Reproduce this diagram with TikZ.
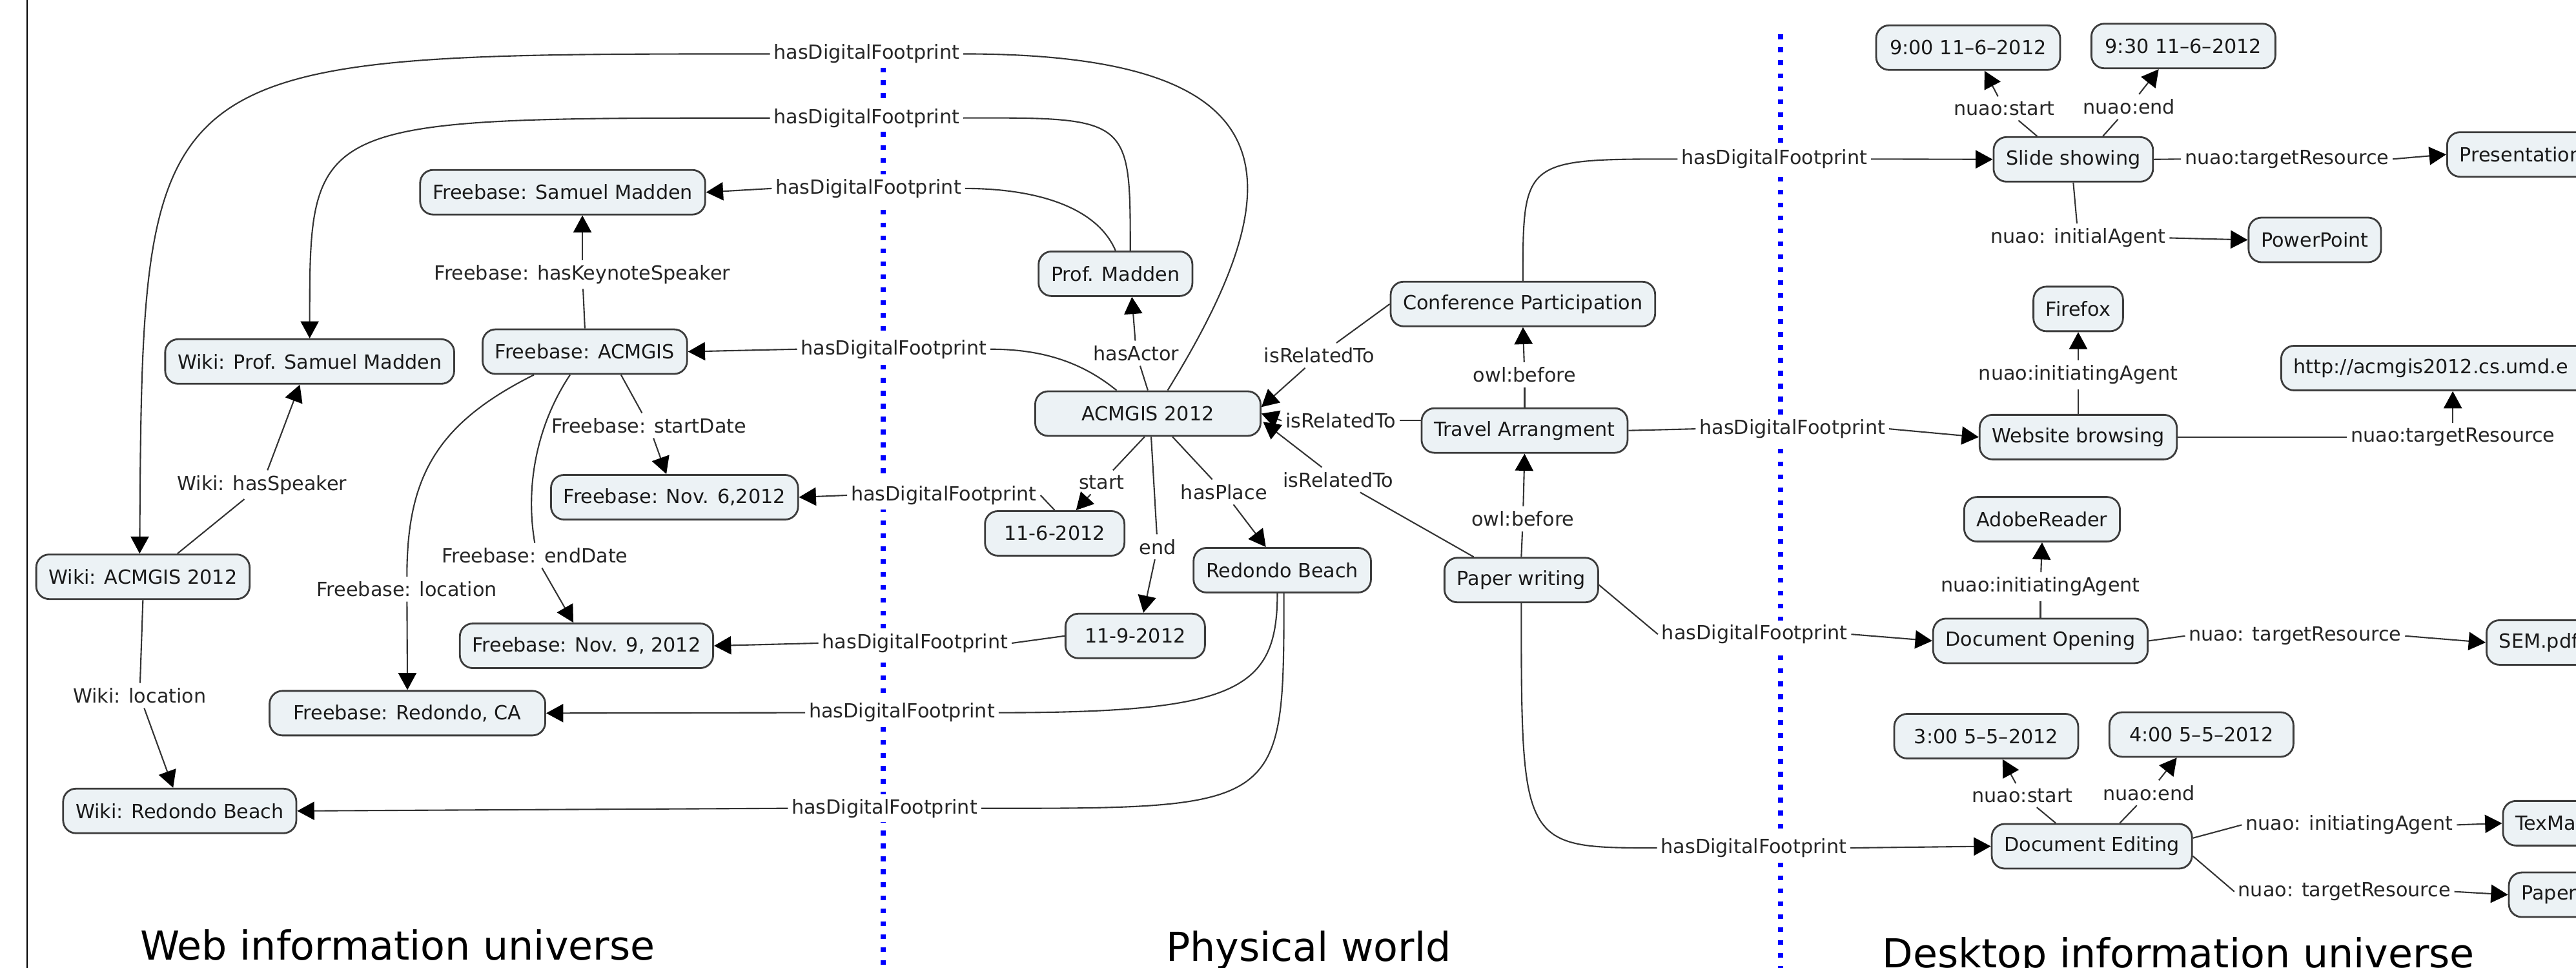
\documentclass[tikz,border=0pt]{standalone}
\usepackage{fontspec}
\setmainfont{DejaVu Sans}
\usetikzlibrary{calc}
\usetikzlibrary{arrows.meta}
\definecolor{conceptfill}{RGB}{236,242,245}
\definecolor{conceptline}{RGB}{60,60,60}
\tikzset{concept/.style={
    draw=conceptline,
    fill=conceptfill,
    line width=0.8pt,
    rounded corners=2mm,
    minimum height=6.9mm,
    inner xsep=5.5pt,
    text=black!90,
    font=\fontsize{8.6}{10}\selectfont
  },
  phrase/.style={
    fill=white,
    inner xsep=1.5pt,
    inner ysep=2pt,
    text=black!85,
    font=\fontsize{8.6}{10}\selectfont
  },
  datebox/.style={minimum width=21.6mm},
  timebox/.style={minimum width=28.5mm},
  offpage/.style={anchor=west, text width=50mm, align=left},
  link/.style={draw=black!80, line width=0.6pt},
  world/.style={anchor=base, font=\fontsize{17.6}{20}\selectfont},
  divider/.style={blue, line width=2.5pt, dash pattern=on 2.1pt off 3.6pt}
}

\begin{document}
\begin{tikzpicture}[x=0.25446mm,y=-0.25446mm,>={Triangle[length=7.5pt,width=8pt,color=black]}]
  \useasboundingbox (0,0) rectangle (1568,589);
  \clip (0,0) rectangle (1568,589);
  \draw[line width=0.8pt] (16.5,0) -- (16.5,589);
  \draw[divider] (537.6,41) -- (537.6,589);
  \draw[divider] (1083.8,21) -- (1083.8,589);

  \node[concept] (fbMadden) at (342.5,117) {Freebase: Samuel Madden};
  \node[concept] (wikiMadden) at (188.5,220) {Wiki: Prof. Samuel Madden};
  \node[concept] (fbAcmgis) at (356,214) {Freebase: ACMGIS};
  \node[concept] (fbNovSix) at (410.6,302.6) {Freebase: Nov. 6,2012};
  \node[concept] (wikiAcmgis) at (87,351) {Wiki: ACMGIS 2012};
  \node[concept] (fbNovNine) at (357,393) {Freebase: Nov. 9, 2012};
  \node[concept, minimum width=42.7mm] (fbRedondo) at (248,434) {Freebase: Redondo, CA};
  \node[concept] (wikiRedondo) at (109.4,493.5) {Wiki: Redondo Beach};

  \node[concept] (madden) at (679,166.6) {Prof. Madden};
  \node[concept, minimum width=34.9mm] (acmgis) at (698.7,251.7) {ACMGIS 2012};
  \node[concept, datebox] (dStart) at (642,324.6) {11-6-2012};
  \node[concept, datebox] (dEnd) at (691,387) {11-9-2012};
  \node[concept] (redondo) at (780.5,347) {Redondo Beach};
  \node[concept] (conf) at (927,185) {Conference Participation};
  \node[concept] (travel) at (928,262) {Travel Arrangment};
  \node[concept] (paper) at (926,353) {Paper writing};

  \node[concept] (slides) at (1262,97) {Slide showing};
  \node[concept, timebox] (tSlideStart) at (1198,29) {9:00 11–6–2012};
  \node[concept, timebox] (tSlideEnd) at (1329,28) {9:30 11–6–2012};
  \node[concept, offpage] (pres) at (1489,94) {Presentation};
  \node[concept] (ppt) at (1409,146) {PowerPoint};
  \node[concept] (firefox) at (1265,188) {Firefox};
  \node[concept, offpage] (url) at (1388,224) {http://acmgis2012.cs.umd.e};
  \node[concept] (browse) at (1265,266) {Website browsing};
  \node[concept] (adobe) at (1243,316) {AdobeReader};
  \node[concept] (docOpen) at (1242,390) {Document Opening};
  \node[concept, offpage] (sem) at (1513,391) {SEM.pdf};
  \node[concept, timebox] (tEditStart) at (1209,448) {3:00 5–5–2012};
  \node[concept, timebox] (tEditEnd) at (1340,447) {4:00 5–5–2012};
  \node[concept] (docEdit) at (1273.3,515) {Document Editing};
  \node[concept, offpage] (texMa) at (1523,501) {TexMa};
  \node[concept, offpage] (paperRes) at (1526.6,544.5) {Paper};

  \node[phrase] (fpWikiEvent) at (527.5,32.8) {hasDigitalFootprint};
  \node[phrase] (fpWikiSpeaker) at (527.5,71.8) {hasDigitalFootprint};
  \node[phrase] (fpFbSpeaker) at (528.6,114.7) {hasDigitalFootprint};
  \node[phrase] (fpFbEvent) at (544,212.5) {hasDigitalFootprint};
  \node[phrase] (fpFbStart) at (574.5,301.4) {hasDigitalFootprint};
  \node[phrase] (fpFbEnd) at (557,391.4) {hasDigitalFootprint};
  \node[phrase] (fpFbPlace) at (549,433.7) {hasDigitalFootprint};
  \node[phrase] (fpWikiPlace) at (538.4,491.9) {hasDigitalFootprint};
  \node[phrase] (keynote) at (354.5,167) {Freebase: hasKeynoteSpeaker};
  \node[phrase] (hasSpeaker) at (159.5,295) {Wiki: hasSpeaker};
  \node[phrase] (startDate) at (395,259) {Freebase: startDate};
  \node[phrase] (endDate) at (325.5,338) {Freebase: endDate};
  \node[phrase] (fbLocation) at (247.7,358.5) {Freebase: location};
  \node[phrase] (wikiLocation) at (85,423.3) {Wiki: location};

  \node[phrase] (hasActor) at (691.6,215) {hasActor};
  \node[phrase] (relConf) at (803,216.3) {isRelatedTo};
  \node[phrase] (relTravel) at (816,256) {isRelatedTo};
  \node[phrase] (relPaper) at (814.5,292) {isRelatedTo};
  \node[phrase] (evStart) at (670.6,293.5) {start};
  \node[phrase] (hasPlace) at (745,299.4) {hasPlace};
  \node[phrase] (evEnd) at (704.6,332.8) {end};
  \node[phrase] (owlTravel) at (928,228) {owl:before};
  \node[phrase] (owlPaper) at (927,315.8) {owl:before};

  \node[phrase] (fpSlides) at (1080,96.8) {hasDigitalFootprint};
  \node[phrase] (fpBrowse) at (1091,261) {hasDigitalFootprint};
  \node[phrase] (fpDocOpen) at (1068,386) {hasDigitalFootprint};
  \node[phrase] (fpDocEdit) at (1067.5,516) {hasDigitalFootprint};
  \node[phrase] (slideStart) at (1220,66) {nuao:start};
  \node[phrase] (slideEnd) at (1296,65) {nuao:end};
  \node[phrase] (trSlides) at (1392,96.8) {nuao:targetResource};
  \node[phrase] (agentSlides) at (1265,144.8) {nuao: initialAgent};
  \node[phrase] (agentBrowse) at (1265,228) {nuao:initiatingAgent};
  \node[phrase] (trBrowse) at (1493,266) {nuao:targetResource};
  \node[phrase] (agentDocOpen) at (1242,357) {nuao:initiatingAgent};
  \node[phrase] (trDocOpen) at (1397,387) {nuao: targetResource};
  \node[phrase] (editStart) at (1231,484) {nuao:start};
  \node[phrase] (editEnd) at (1308,482.5) {nuao:end};
  \node[phrase] (agentDocEdit) at (1430,502) {nuao: initiatingAgent};
  \node[phrase] (trDocEdit) at (1427,542.6) {nuao: targetResource};

  \draw[link] ($(acmgis.north)+(12,0)$) .. controls +(79,-128) and +(202,0) .. (fpWikiEvent.east);
  \draw[link,->] (fpWikiEvent.west) .. controls (wikiAcmgis.north |- fpWikiEvent.west) .. ($(wikiAcmgis.north)+(-2,0)$);
  \draw[link] ($(madden.north)+(9,0)$) .. controls +(0,-81) .. (fpWikiSpeaker.east);
  \draw[link,->] (fpWikiSpeaker.west) .. controls (wikiMadden.north |- fpWikiSpeaker.west) .. (wikiMadden.north);
  \draw[link] (madden.north) .. controls +(-12,-28) and +(40,0) .. (fpFbSpeaker.east);
  \draw[link,->] (fpFbSpeaker.west) -- (fbMadden.east);
  \draw[link] ($(acmgis.north)+(-19,0)$) .. controls +(-22,-18) and +(30,0) .. (fpFbEvent.east);
  \draw[link,->] (fpFbEvent.west) -- (fbAcmgis.east);
  \draw[link] (dStart.north) -- (fpFbStart.east);
  \draw[link,->] (fpFbStart.west) -- (fbNovSix.east);
  \draw[link] (dEnd.west) -- (fpFbEnd.east);
  \draw[link,->] (fpFbEnd.west) -- (fbNovNine.east);
  \draw[link] ($(redondo.south)+(-3,0)$) .. controls +(0,59) and +(145,0) .. (fpFbPlace.east);
  \draw[link,->] (fpFbPlace.west) -- (fbRedondo.east);
  \draw[link] ($(redondo.south)+(1,0)$) .. controls +(0,131) .. (fpWikiPlace.east);
  \draw[link,->] (fpWikiPlace.west) -- (wikiRedondo.east);

  \draw[link] (fbAcmgis.north) -- (keynote);
  \draw[link,->] (keynote) -- (keynote |- fbMadden.south);
  \draw[link] ($(wikiAcmgis.north)+(21,0)$) -- (hasSpeaker);
  \draw[link,->] (hasSpeaker) -- ($(wikiMadden.south)+(-6,0)$);
  \draw[link] ($(fbAcmgis.south)+(22,0)$) -- (startDate);
  \draw[link,->] (startDate) -- ($(fbNovSix.north)+(-5,0)$);
  \draw[link] ($(fbAcmgis.south)+(-9,0)$) .. controls +(-20,30) and +(-6,-35) .. (endDate.north);
  \draw[link,->] (endDate) -- ($(fbNovNine.north)+(-8,0)$);
  \draw[link] ($(fbAcmgis.south)+(-31,0)$) .. controls +(-60,30) and +(0,-60) .. (fbLocation.north);
  \draw[link,->] (fbLocation) -- (fbRedondo.north);
  \draw[link] (wikiAcmgis.south) -- (wikiLocation);
  \draw[link,->] (wikiLocation) -- ($(wikiRedondo.north)+(-4,0)$);

  \draw[link] (acmgis.north) -- (hasActor);
  \draw[link,->] (hasActor) -- ($(madden.south)+(10,0)$);
  \draw[link] ($(acmgis.south)+(-2,0)$) -- (evStart);
  \draw[link,->] (evStart) -- ($(dStart.north)+(13,0)$);
  \draw[link] ($(acmgis.south)+(2,0)$) -- (evEnd);
  \draw[link,->] (evEnd) -- ($(dEnd.north)+(5,0)$);
  \draw[link] ($(acmgis.south)+(15,0)$) -- (hasPlace);
  \draw[link,->] (hasPlace) -- ($(redondo.north)+(-10,0)$);
  \draw[link] (conf.west) -- (relConf);
  \draw[link,->] (relConf) -- ($(acmgis.east)+(0,-4)$);
  \draw[link] (relTravel.east) -- (relTravel.east -| travel.west);
  \draw[link,->] (relTravel.west) -- (acmgis.east);
  \draw[link] ($(paper.north)+(-29,0)$) -- (relPaper);
  \draw[link,->] (relPaper) -- ($(acmgis.east)+(1,5)$);
  \draw[link] (travel.north) -- (owlTravel);
  \draw[link,->] (owlTravel) -- (conf.south);
  \draw[link] (paper.north) -- (owlPaper);
  \draw[link,->] (owlPaper) -- (travel.south);

  \draw[link] (conf.north) .. controls (conf.north |- fpSlides.west) .. (fpSlides.west);
  \draw[link,->] (fpSlides.east) -- (slides.west);
  \draw[link] (travel.east) -- (fpBrowse.west);
  \draw[link,->] (fpBrowse.east) -- (browse.west);
  \draw[link] ($(paper.east)+(0,3)$) -- (fpDocOpen.west);
  \draw[link,->] (fpDocOpen.east) -- (docOpen.west);
  \draw[link] (paper.south) .. controls (paper.south |- fpDocEdit.west) .. (fpDocEdit.west);
  \draw[link,->] (fpDocEdit.east) -- (docEdit.west);
  \draw[link] ($(slides.north)+(-22,0)$) -- (slideStart);
  \draw[link,->] (slideStart) -- ($(tSlideStart.south)+(10,0)$);
  \draw[link] ($(slides.north)+(18,0)$) -- (slideEnd);
  \draw[link,->] (slideEnd) -- ($(tSlideEnd.south)+(-15,0)$);
  \draw[link] (slides.east) -- (trSlides.west);
  \draw[link,->] (trSlides.east) -- (pres.west);
  \draw[link] (slides.south) -- (agentSlides);
  \draw[link,->] (agentSlides.east) -- (ppt.west);
  \draw[link] (browse.north) -- (agentBrowse);
  \draw[link,->] (agentBrowse) -- (firefox.south);
  \draw[link] (browse.east) -- (trBrowse.west);
  \draw[link,->] (trBrowse.north) -- (trBrowse.north |- url.south);
  \draw[link] (docOpen.north) -- (agentDocOpen);
  \draw[link,->] (agentDocOpen) -- (adobe.south);
  \draw[link] (docOpen.east) -- (trDocOpen.west);
  \draw[link,->] (trDocOpen.east) -- (sem.west);
  \draw[link] ($(docEdit.north)+(-22,0)$) -- (editStart);
  \draw[link,->] (editStart) -- ($(tEditStart.south)+(10,0)$);
  \draw[link] ($(docEdit.north)+(17,0)$) -- (editEnd);
  \draw[link,->] (editEnd) -- ($(tEditEnd.south)+(-15,0)$);
  \draw[link] ($(docEdit.east)+(0,-5)$) -- (agentDocEdit.west);
  \draw[link,->] (agentDocEdit.east) -- (texMa.west);
  \draw[link] ($(docEdit.east)+(0,6)$) -- (trDocEdit.west);
  \draw[link,->] (trDocEdit.east) -- (paperRes.west);

  \node[world] (webTitle) at (242,584) {Web information universe};
  \node[world] (physTitle) at (796.5,585) {Physical world};
  \node[world] (deskTitle) at (1326,589) {Desktop information universe};
\end{tikzpicture}
\end{document}
